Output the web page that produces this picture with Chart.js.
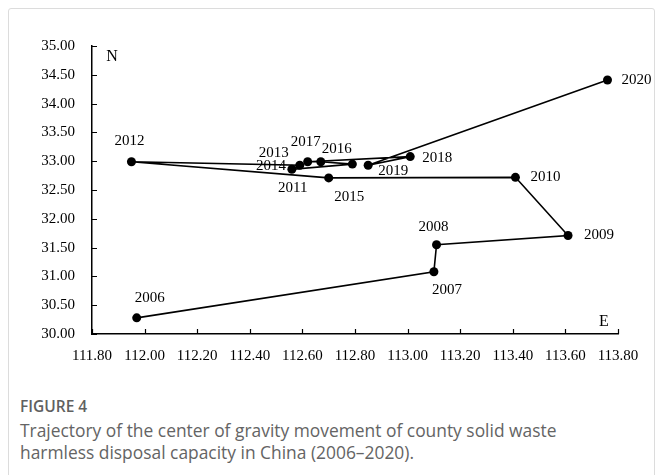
<!DOCTYPE html>
<html>
<head>
<meta charset="utf-8">
<script src="https://cdn.jsdelivr.net/npm/chart.js@4"></script>
<style>
  html, body { margin: 0; padding: 0; background: #fff; }
  body { width: 662px; height: 475px; position: relative; overflow: hidden; }
  #card { position: absolute; left: 8px; top: 8px; width: 645px; height: 480px; border: 1px solid #dcdcdc; border-radius: 3px; }
  #chartBox { position: absolute; left: 0; top: 0; width: 662px; height: 380px; }
  #caption { position: absolute; left: 20px; top: 395px; width: 600px; font-family: "Open Sans", sans-serif; }
  #caption .fig { font-size: 15.5px; font-weight: 600; color: #606060; line-height: 22px; }
  #caption .txt { font-size: 17.4px; color: #646464; line-height: 22px; margin-top: 2px; }
</style>
</head>
<body>
<div id="card"></div>
<div id="chartBox"><canvas id="chartContainer"></canvas></div>
<div id="caption">
  <div class="fig">FIGURE 4</div>
  <div class="txt">Trajectory of the center of gravity movement of county solid waste harmless disposal capacity in China (2006–2020).</div>
</div>
<script>
"use strict";

// 1: data
let years = ['2006', '2007', '2008', '2009', '2010', '2011', '2012', '2013',
  '2014', '2015', '2016', '2017', '2018', '2019', '2020'];
let longitude = [111.97, 113.10, 113.11, 113.61, 113.41, 112.70, 111.95, 112.59,
  112.56, 112.79, 112.67, 112.62, 113.01, 112.85, 113.76];
let latitude = [30.28, 31.08, 31.55, 31.71, 32.72, 32.71, 32.99, 32.93,
  32.86, 32.95, 32.99, 32.99, 33.08, 32.93, 34.41];

// where each year label sits next to its point (px)
let labelOffset = [[13, -20], [13, 18], [-3, -18], [31, 0], [30, 0], [-36, 10], [-2, -21], [-26, -12],
  [-21, -3], [-3, 33], [16, -13], [-2, -20], [27, 1], [25, 6], [29, 0]];

const serif = '"Liberation Serif", "Times New Roman", serif';

// 2: prepare data for chart
function prepareData() {
  let points = [];
  for (let i = 0; i < years.length; i++) {
    points.push({ x: longitude[i], y: latitude[i] });
  }
  return points;
}

// year labels, N / E marks and inward tick marks
const extras = {
  id: 'extras',
  afterDatasetsDraw(chart) {
    const ctx = chart.ctx;
    const meta = chart.getDatasetMeta(0);
    ctx.save();
    ctx.fillStyle = '#000';
    ctx.font = '15px ' + serif;
    ctx.textAlign = 'center';
    ctx.textBaseline = 'middle';
    meta.data.forEach((pt, i) => {
      ctx.fillText(years[i], pt.x + labelOffset[i][0], pt.y + labelOffset[i][1]);
    });
    const a = chart.chartArea;
    ctx.font = '16px ' + serif;
    ctx.fillText('N', a.left + 20, a.top + 11);
    ctx.fillText('E', a.right - 14, a.bottom - 12);

    ctx.strokeStyle = '#000';
    ctx.lineWidth = 1.2;
    const xs = chart.scales.x, ys = chart.scales.y;
    ctx.beginPath();
    xs.ticks.forEach((t, i) => {
      const px = Math.round(xs.getPixelForTick(i)) + 0.5;
      ctx.moveTo(px, a.bottom);
      ctx.lineTo(px, a.bottom - 5);
    });
    ys.ticks.forEach((t, i) => {
      const py = Math.round(ys.getPixelForTick(i)) + 0.5;
      ctx.moveTo(a.left, py);
      ctx.lineTo(a.left + 5, py);
    });
    ctx.stroke();
    ctx.restore();
  }
};

// 3: create and append the chart
function appendChart() {
  let chartContainer = document.getElementById('chartContainer');
  let chart = new Chart(chartContainer, {
    type: 'scatter',
    data: {
      datasets: [{
        data: prepareData(),
        showLine: true,
        borderColor: '#000',
        borderWidth: 1.6,
        backgroundColor: '#000',
        pointRadius: 4.5,
        pointHoverRadius: 4.5,
        pointBorderWidth: 0,
        tension: 0
      }]
    },
    options: {
      responsive: true,
      maintainAspectRatio: false,
      animation: false,
      layout: { padding: { left: 0, top: 46, right: 44, bottom: 16 } },
      plugins: {
        legend: { display: false },
        tooltip: { enabled: false }
      },
      scales: {
        x: {
          type: 'linear',
          min: 111.8,
          max: 113.8,
          afterFit(s) { s.height = 30; },
          grid: { display: true, drawOnChartArea: false, drawTicks: false },
          border: { display: true, color: '#000', width: 1.5 },
          ticks: {
            stepSize: 0.2,
            padding: 13,
            color: '#000',
            font: { family: serif, size: 15 },
            maxRotation: 0,
            callback: v => Number(v).toFixed(2)
          }
        },
        y: {
          min: 30,
          max: 35,
          afterFit(s) { s.width = 92; },
          grid: { display: true, drawOnChartArea: false, drawTicks: false },
          border: { display: true, color: '#000', width: 1.5 },
          ticks: {
            stepSize: 0.5,
            padding: 17,
            color: '#000',
            font: { family: serif, size: 15 },
            callback: v => Number(v).toFixed(2)
          }
        }
      }
    },
    plugins: [extras]
  });
}

appendChart();
</script>
</body>
</html>
